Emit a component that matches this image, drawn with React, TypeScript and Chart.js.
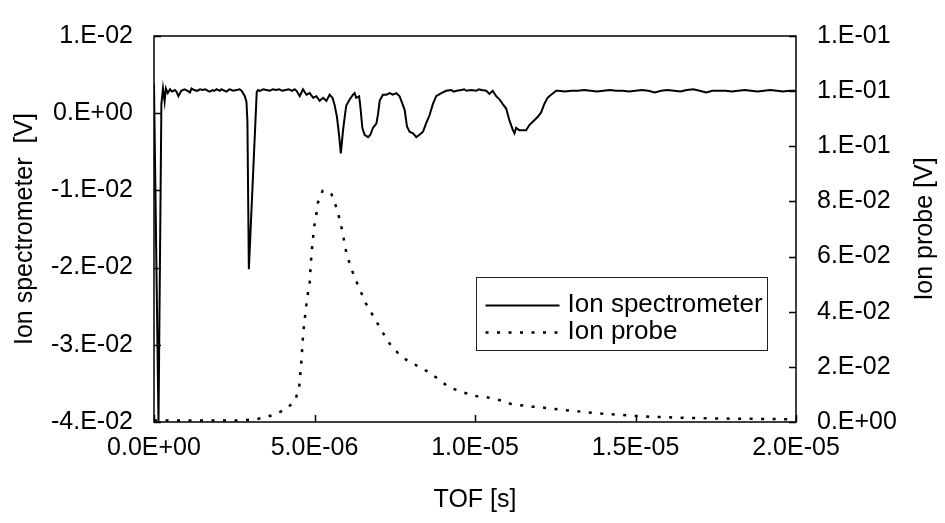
import { useEffect, useRef } from 'react';
import { Chart, registerables } from 'chart.js';

Chart.register(...registerables);

// ---- data: [time in microseconds, volts] ----
const spectrometerTrace: [number, number][] = [
  [0.0, 0.0037], [0.14, -0.04], [0.23, 0.0012], [0.28, 0.0032], [0.33, 0.0015], [0.37, 0.0032], [0.43, 0.0026],
  [0.5, 0.0031], [0.56, 0.0028], [0.65, 0.003], [0.7, 0.0028], [0.76, 0.0022], [0.85, 0.0029], [0.95, 0.0031],
  [1.05, 0.0029], [1.12, 0.0027], [1.17, 0.0032], [1.25, 0.003], [1.35, 0.0029], [1.43, 0.0031], [1.52, 0.003],
  [1.6, 0.0031], [1.68, 0.0029], [1.74, 0.0028], [1.82, 0.003], [1.88, 0.0029], [1.95, 0.0031], [2.05, 0.0029],
  [2.1, 0.0031], [2.15, 0.003], [2.26, 0.0028], [2.35, 0.0031], [2.42, 0.003], [2.47, 0.0029], [2.57, 0.003],
  [2.67, 0.0031], [2.73, 0.0029], [2.83, 0.0022], [2.88, 0.0015], [2.91, -0.001], [2.955, -0.0202], [3.2, 0.0027],
  [3.24, 0.003], [3.3, 0.0029], [3.4, 0.0031], [3.5, 0.003], [3.6, 0.0029], [3.7, 0.0031], [3.8, 0.003],
  [3.9, 0.0031], [4.0, 0.0029], [4.1, 0.003], [4.2, 0.0031], [4.3, 0.0029], [4.38, 0.0031], [4.44, 0.0029],
  [4.54, 0.0022], [4.64, 0.0031], [4.75, 0.0024], [4.85, 0.0026], [4.96, 0.002], [5.06, 0.0022], [5.16, 0.0016],
  [5.27, 0.002], [5.37, 0.0016], [5.47, 0.0024], [5.56, 0.002], [5.63, 0.001], [5.7, -0.0005], [5.77, -0.003],
  [5.82, -0.0052], [5.89, -0.0022], [5.94, -0.0005], [5.99, 0.001], [6.1, 0.0018], [6.2, 0.0024], [6.25, 0.0026],
  [6.3, 0.002], [6.39, 0.0022], [6.43, 0.0008], [6.49, -0.0019], [6.56, -0.0028], [6.67, -0.0031], [6.74, -0.0028],
  [6.82, -0.0019], [6.93, -0.0013], [6.98, -0.0001], [7.03, 0.0016], [7.13, 0.0024], [7.24, 0.0024],
  [7.34, 0.0026], [7.44, 0.0024], [7.55, 0.0026], [7.65, 0.0022], [7.74, 0.0012], [7.81, 0.0004], [7.88, -0.0017],
  [7.96, -0.0024], [8.07, -0.0026], [8.17, -0.0031], [8.27, -0.0028], [8.38, -0.0024], [8.48, -0.0013],
  [8.58, -0.0003], [8.69, 0.0012], [8.79, 0.0022], [8.95, 0.0026], [9.1, 0.0029], [9.26, 0.003], [9.34, 0.0028],
  [9.42, 0.0029], [9.58, 0.003], [9.66, 0.0031], [9.73, 0.0029], [9.88, 0.003], [10.04, 0.0029], [10.12, 0.0031],
  [10.2, 0.003], [10.35, 0.0029], [10.45, 0.0025], [10.55, 0.0029], [10.66, 0.0022], [10.76, 0.0018],
  [10.86, 0.0012], [10.97, 0.0006], [11.07, -0.0009], [11.18, -0.0022], [11.23, -0.0026], [11.28, -0.0019],
  [11.38, -0.0022], [11.49, -0.0022], [11.59, -0.0022], [11.7, -0.0015], [11.8, -0.0011], [11.95, -0.0005],
  [12.06, 0.0001], [12.16, 0.0012], [12.26, 0.002], [12.37, 0.0024], [12.53, 0.0029], [12.6, 0.0029],
  [12.8, 0.0028], [13.0, 0.0029], [13.2, 0.0029], [13.4, 0.003], [13.6, 0.0029], [13.8, 0.0028], [14.0, 0.0029],
  [14.2, 0.003], [14.4, 0.0029], [14.6, 0.0029], [14.8, 0.0028], [15.0, 0.0029], [15.2, 0.003], [15.4, 0.0029],
  [15.6, 0.0027], [15.8, 0.0029], [16.0, 0.003], [16.2, 0.0029], [16.4, 0.0028], [16.6, 0.003], [16.8, 0.0031],
  [17.0, 0.0029], [17.2, 0.0027], [17.4, 0.0029], [17.6, 0.0029], [17.8, 0.0029], [18.0, 0.0028], [18.2, 0.0029],
  [18.4, 0.003], [18.6, 0.0029], [18.8, 0.0028], [19.0, 0.0029], [19.2, 0.003], [19.4, 0.0029], [19.6, 0.0028],
  [19.8, 0.0029], [20.0, 0.0029],
];

const probeTrace: [number, number][] = [
  [0.0, 0.0005], [0.59, 0.0005], [1.33, 0.0005], [2.05, 0.0005], [2.78, 0.0006], [3.19, 0.00105], [3.45, 0.00165],
  [3.76, 0.0027], [4.13, 0.0048], [4.39, 0.0077], [4.52, 0.0122], [4.59, 0.0218], [4.65, 0.0323], [4.73, 0.041],
  [4.79, 0.0463], [4.85, 0.0505], [4.88, 0.0568], [4.92, 0.0627], [4.99, 0.0709], [5.06, 0.0755], [5.11, 0.0797],
  [5.25, 0.0838], [5.38, 0.084], [5.53, 0.0826], [5.68, 0.0779], [5.79, 0.0732], [5.87, 0.0691], [5.99, 0.0615],
  [6.13, 0.0562], [6.24, 0.0527], [6.6, 0.043], [7.0, 0.035], [7.3, 0.029], [7.6, 0.025], [7.8, 0.023],
  [8.1, 0.021], [8.3, 0.0198], [8.6, 0.0178], [8.95, 0.0147], [9.2, 0.0126], [9.6, 0.0109], [9.95, 0.0095],
  [10.4, 0.0089], [10.75, 0.008], [11.0, 0.0068], [11.3, 0.0063], [11.7, 0.0056], [12.0, 0.0054], [12.5, 0.0047],
  [13.0, 0.0041], [13.5, 0.0035], [14.0, 0.003], [14.5, 0.0026], [15.0, 0.0022], [15.5, 0.0019], [16.0, 0.0017],
  [17.0, 0.0014], [18.0, 0.0012], [19.0, 0.0011], [20.0, 0.001],
];

const xTickLabels = ['0.0E+00', '5.0E-06', '1.0E-05', '1.5E-05', '2.0E-05'];
const leftTickLabels = ['-4.E-02', '-3.E-02', '-2.E-02', '-1.E-02', '0.E+00', '1.E-02'];
const rightTickLabels = ['0.E+00', '2.E-02', '4.E-02', '6.E-02', '8.E-02', '1.E-01', '1.E-01', '1.E-01'];

const seriesLabels = ['Ion spectrometer', 'Ion probe'];
const xTitle = 'TOF [s]';
const leftTitle = 'Ion spectrometer  [V]';
const rightTitle = 'Ion probe [V]';

const FONT = '"Liberation Sans", Arial, sans-serif';
const FS = 25;
const LEGEND_FS = 26;

const framePlugin = {
  id: 'frameTicksLegend',
  afterDatasetsDraw(chart: any) {
    const { ctx, chartArea: a, scales, width } = chart;
    ctx.save();
    ctx.strokeStyle = '#000';
    ctx.lineWidth = 1.5;
    ctx.setLineDash([]);
    ctx.strokeRect(a.left, a.top, a.right - a.left, a.bottom - a.top);
    const L = 7;
    ctx.beginPath();
    scales.x.ticks.forEach((t: any) => {
      const p = Math.round(scales.x.getPixelForValue(t.value)) + 0.5;
      ctx.moveTo(p, a.bottom);
      ctx.lineTo(p, a.bottom - L);
    });
    scales.y.ticks.forEach((t: any) => {
      const p = Math.round(scales.y.getPixelForValue(t.value)) + 0.5;
      ctx.moveTo(a.left, p);
      ctx.lineTo(a.left + L, p);
    });
    scales.y2.ticks.forEach((t: any) => {
      const p = Math.round(scales.y2.getPixelForValue(t.value)) + 0.5;
      ctx.moveTo(a.right, p);
      ctx.lineTo(a.right - L, p);
    });
    ctx.stroke();

    // right axis title, reading bottom to top
    ctx.save();
    ctx.translate(width - 20, (a.top + a.bottom) / 2);
    ctx.rotate(-Math.PI / 2);
    ctx.font = `${FS}px ${FONT}`;
    ctx.fillStyle = '#000';
    ctx.textAlign = 'center';
    ctx.textBaseline = 'middle';
    ctx.fillText(rightTitle, 0, 0);
    ctx.restore();

    // legend box
    const w = a.right - a.left;
    const h = a.bottom - a.top;
    const bx = a.left + w * 0.5008;
    const by = a.top + h * 0.624;
    const bw = w * 0.4526;
    const bh = h * 0.188;
    ctx.fillStyle = '#fff';
    ctx.fillRect(bx, by, bw, bh);
    ctx.lineWidth = 1;
    ctx.strokeStyle = '#222';
    ctx.strokeRect(Math.round(bx) + 0.5, Math.round(by) + 0.5, Math.round(bw), Math.round(bh));
    const rows = [by + bh * 0.39, by + bh * 0.76];
    ctx.font = `${LEGEND_FS}px ${FONT}`;
    ctx.fillStyle = '#000';
    ctx.textBaseline = 'middle';
    ctx.textAlign = 'left';
    chart.data.datasets.forEach((ds: any, i: number) => {
      const y = Math.round(rows[i]) + 0.5;
      ctx.beginPath();
      ctx.lineWidth = ds.borderWidth;
      ctx.strokeStyle = ds.borderColor;
      ctx.setLineDash(ds.borderDash || []);
      ctx.moveTo(bx + 10, y);
      ctx.lineTo(bx + 84, y);
      ctx.stroke();
      ctx.setLineDash([]);
      ctx.fillText(ds.label, bx + 92, rows[i]);
    });
    ctx.restore();
  },
};

export default function App() {
  const ref = useRef<HTMLCanvasElement | null>(null);
  useEffect(() => {
    document.body.style.margin = '0';
    const canvas = ref.current;
    if (!canvas) return;
    const specData = spectrometerTrace.map(([t, v]) => ({ x: t * 1e-6, y: v }));
    const probeData = probeTrace.map(([t, v]) => ({ x: t * 1e-6, y: v }));
    const tickFont = { family: FONT, size: FS };
    const chart = new Chart(canvas, {
      type: 'line',
      data: {
        datasets: [
          {
            label: seriesLabels[0],
            data: specData,
            yAxisID: 'y',
            borderColor: '#000',
            borderWidth: 2,
            pointRadius: 0,
            tension: 0,
          },
          {
            label: seriesLabels[1],
            data: probeData,
            yAxisID: 'y2',
            borderColor: '#000',
            borderWidth: 2.5,
            borderDash: [3, 8.5],
            pointRadius: 0,
            tension: 0,
          },
        ],
      },
      options: {
        responsive: false,
        animation: false,
        devicePixelRatio: 1,
        layout: { padding: { top: 23, left: 0, right: 0, bottom: 0 } },
        plugins: { legend: { display: false }, tooltip: { enabled: false } },
        scales: {
          x: {
            type: 'linear',
            min: 0,
            max: 2e-5,
            grid: { display: false, drawTicks: false },
            border: { display: false },
            ticks: {
              stepSize: 5e-6,
              color: '#000',
              font: tickFont,
              padding: 11,
              maxRotation: 0,
              autoSkip: false,
              callback: (_v: any, i: number) => xTickLabels[i],
            },
            title: { display: true, text: xTitle, color: '#000', font: tickFont, padding: { top: 0, bottom: 8 } },
            afterFit: (s: any) => { s.height = 101; },
          },
          y: {
            type: 'linear',
            position: 'left',
            min: -0.04,
            max: 0.01,
            grid: { display: false, drawTicks: false },
            border: { display: false },
            ticks: {
              stepSize: 0.01,
              color: '#000',
              font: tickFont,
              padding: 21,
              autoSkip: false,
              callback: (_v: any, i: number) => leftTickLabels[i],
            },
            title: { display: true, text: leftTitle, color: '#000', font: tickFont, padding: { top: 10, bottom: 0 } },
            afterFit: (s: any) => { s.width = 154; },
          },
          y2: {
            type: 'linear',
            position: 'right',
            min: 0,
            max: 0.14,
            grid: { display: false, drawTicks: false },
            border: { display: false },
            ticks: {
              stepSize: 0.02,
              color: '#000',
              font: tickFont,
              padding: 21,
              autoSkip: false,
              callback: (_v: any, i: number) => rightTickLabels[i],
            },
            afterFit: (s: any) => { s.width = 149; },
          },
        },
      },
      plugins: [framePlugin],
    });
    return () => chart.destroy();
  }, []);
  return (
    <div style={{ width: 945, height: 523 }}>
      <canvas ref={ref} width={945} height={523} style={{ display: 'block' }} />
    </div>
  );
}
